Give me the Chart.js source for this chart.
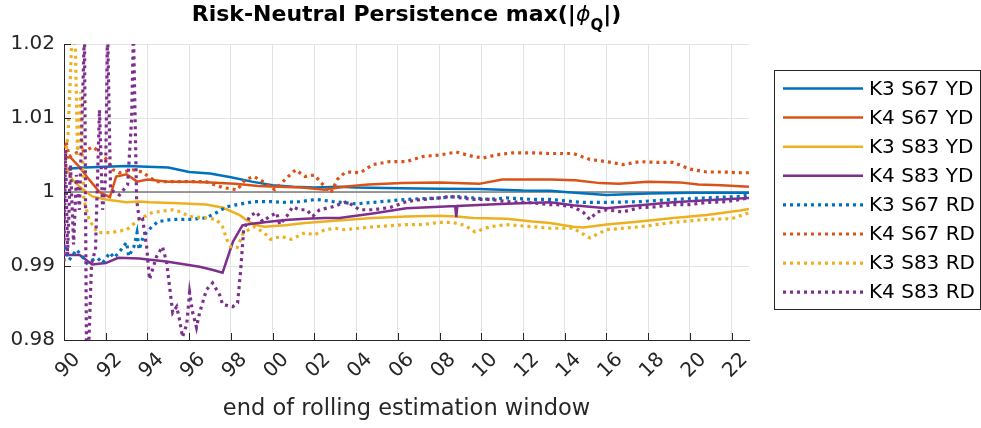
<!DOCTYPE html>
<html>
<head>
<meta charset="utf-8">
<script src="https://cdn.jsdelivr.net/npm/chart.js@4.4.1/dist/chart.umd.min.js"></script>
<style>
  html, body { margin: 0; padding: 0; background: #fff; }
  canvas { display: block; }
</style>
</head>
<body>
<canvas id="chart" width="981" height="428"></canvas>
<script>
// axis ticks
const xTickYears = [1990, 1992, 1994, 1996, 1998, 2000, 2002, 2004, 2006, 2008, 2010, 2012, 2014, 2016, 2018, 2020, 2022];
const xTickLabels = ['90', '92', '94', '96', '98', '00', '02', '04', '06', '08', '10', '12', '14', '16', '18', '20', '22'];
const yTickValues = [0.98, 0.99, 1, 1.01, 1.02];
const yTickLabels = ['0.98', '0.99', '1', '1.01', '1.02'];

// K3 S67 YD
const k3s67ydYears = [1990.0, 1991, 1992, 1993, 1994, 1995, 1996, 1997, 1998, 1999, 2000, 2001, 2002, 2003.2, 2004, 2006.1, 2008, 2009.9, 2012, 2013.3, 2014, 2015, 2016, 2017, 2018, 2020, 2022.83];
const k3s67ydValues = [1.0031, 1.0033, 1.0034, 1.0035, 1.0034, 1.0033, 1.0027, 1.0025, 1.0020, 1.0014, 1.0009, 1.0007, 1.0006, 1.0007, 1.0006, 1.0005, 1.00045, 1.0004, 1.0002, 1.00018, 1.0000, 0.9998, 0.9996, 0.9997, 0.9998, 0.9999, 0.9999];

// K4 S67 YD
const k4s67ydYears = [1990.0, 1990.3, 1990.7, 1991.2, 1991.7, 1992.2, 1992.35, 1992.5, 1993.0, 1993.5, 1994.0, 1995.0, 1996.0, 1997.0, 1998.2, 1999.3, 2000.3, 2001.4, 2002.5, 2003.4, 2004.6, 2006.2, 2008.0, 2009.9, 2011.0, 2013.3, 2014.5, 2015.7, 2016.6, 2018.0, 2019.5, 2020.4, 2021.5, 2022.83];
const k4s67ydValues = [1.0047, 1.0047, 1.0035, 1.0017, 1.0000, 0.9993, 1.0007, 1.0021, 1.0024, 1.0014, 1.0017, 1.0014, 1.0014, 1.0013, 1.0011, 1.0008, 1.0007, 1.0006, 1.0003, 1.0007, 1.0010, 1.0012, 1.0013, 1.0011, 1.0017, 1.0017, 1.0016, 1.0012, 1.0011, 1.0014, 1.0013, 1.0010, 1.0009, 1.0007];

// K3 S83 YD
const k3s83ydYears = [1990.0, 1990.4, 1990.75, 1991.35, 1992.0, 1993.0, 1993.6, 1994.1, 1995.2, 1996.8, 1997.6, 1998.4, 1998.7, 1999.1, 1999.6, 2000.6, 2001.55, 2002.5, 2003.45, 2004.8, 2006.4, 2008.0, 2008.8, 2009.6, 2011.2, 2012.45, 2013.3, 2014.4, 2014.9, 2016.0, 2017.6, 2019.2, 2020.8, 2022.4, 2022.83];
const k3s83ydValues = [1.0038, 1.0017, 1.0007, 0.9994, 0.9990, 0.9986, 0.9987, 0.9986, 0.9985, 0.9983, 0.9979, 0.9969, 0.9963, 0.9956, 0.9953, 0.9955, 0.9958, 0.9960, 0.9962, 0.9965, 0.9967, 0.9968, 0.9967, 0.9965, 0.9964, 0.9960, 0.9958, 0.9953, 0.9952, 0.9956, 0.9960, 0.9965, 0.9969, 0.9975, 0.9977];

// K4 S83 YD
const k4s83ydYears = [1990.0, 1990.75, 1991.35, 1992.0, 1992.6, 1993.6, 1994.9, 1996.5, 1997.1, 1997.6, 1998.1, 1998.55, 1999.0, 1999.6, 2000.6, 2001.55, 2002.5, 2003.2, 2004.8, 2006.4, 2008.0, 2008.75, 2008.8, 2008.85, 2009.6, 2011.2, 2013.3, 2014.4, 2016.0, 2017.6, 2019.2, 2020.8, 2022.83];
const k4s83ydValues = [0.9915, 0.9915, 0.9902, 0.9904, 0.9911, 0.9910, 0.9906, 0.9899, 0.9895, 0.9891, 0.9933, 0.9955, 0.9957, 0.9959, 0.9962, 0.9964, 0.9965, 0.9965, 0.9971, 0.9978, 0.9980, 0.9981, 0.9966, 0.9981, 0.9982, 0.9984, 0.9986, 0.9982, 0.9978, 0.9982, 0.9986, 0.9989, 0.9992];

// K3 S67 RD
const k3s67rdYears = [1990.05, 1990.25, 1990.6, 1990.9, 1991.1, 1991.35, 1991.6, 1991.85, 1992.2, 1992.4, 1992.65, 1993.0, 1993.1, 1993.35, 1993.5, 1993.6, 1993.8, 1994.1, 1994.5, 1995.2, 1996.0, 1996.8, 1997.3, 1997.8, 1998.3, 1999.1, 1999.9, 2000.5, 2001.3, 2002.1, 2002.9, 2004.0, 2004.8, 2006.4, 2008.0, 2008.8, 2009.6, 2010.4, 2011.2, 2012.45, 2013.3, 2014.4, 2014.9, 2016.0, 2017.6, 2019.2, 2020.8, 2022.4, 2022.83];
const k3s67rdValues = [0.9926, 0.9908, 0.9922, 0.9912, 0.9904, 0.9908, 0.9911, 0.9904, 0.9918, 0.9911, 0.9919, 0.9932, 0.9913, 0.9926, 0.9945, 0.9922, 0.9940, 0.9950, 0.9960, 0.9963, 0.9963, 0.9965, 0.9972, 0.9980, 0.9983, 0.9987, 0.9987, 0.9986, 0.9987, 0.9990, 0.9987, 0.9984, 0.9986, 0.9990, 0.9992, 0.9994, 0.9992, 0.9990, 0.9992, 0.9990, 0.9990, 0.9987, 0.9986, 0.9986, 0.9987, 0.9990, 0.9992, 0.9994, 0.9996];

// K4 S67 RD
const k4s67rdYears = [1990.0, 1990.1, 1990.25, 1990.6, 1991.1, 1991.4, 1991.7, 1992.05, 1992.35, 1992.65, 1993.3, 1993.75, 1994.4, 1995.2, 1996.0, 1996.8, 1997.6, 1998.3, 1998.7, 1999.1, 1999.6, 2000.1, 2000.6, 2001.1, 2001.55, 2002.0, 2002.5, 2002.8, 2003.1, 2003.45, 2003.7, 2004.2, 2004.8, 2005.6, 2006.4, 2007.2, 2008.0, 2008.8, 2009.6, 2010.1, 2010.7, 2011.5, 2012.45, 2013.3, 2014.4, 2015.2, 2016.0, 2016.8, 2017.6, 2018.4, 2019.2, 2020.0, 2020.8, 2021.6, 2022.4, 2022.83];
const k4s67rdValues = [1.0060, 1.0068, 1.0048, 1.0053, 1.0057, 1.0061, 1.0054, 1.0044, 1.0030, 1.0026, 1.0030, 1.0027, 1.0014, 1.0014, 1.0014, 1.0014, 1.0006, 1.0003, 1.0017, 1.0021, 1.0013, 1.0003, 1.0017, 1.0030, 1.0021, 1.0023, 1.0007, 0.9999, 1.0017, 1.0026, 1.0027, 1.0026, 1.0037, 1.0041, 1.0041, 1.0048, 1.0050, 1.0054, 1.0048, 1.0046, 1.0050, 1.0053, 1.0053, 1.0052, 1.0052, 1.0044, 1.0041, 1.0037, 1.0041, 1.0040, 1.0040, 1.0031, 1.0027, 1.0027, 1.0026, 1.0026];

// K3 S83 RD
const k3s83rdYears = [1990.0, 1990.2, 1990.4, 1990.55, 1990.65, 1990.8, 1990.95, 1991.2, 1991.6, 1992.2, 1993.0, 1993.6, 1994.2, 1995.2, 1995.6, 1996.0, 1996.8, 1997.3, 1997.6, 1997.8, 1998.0, 1998.3, 1998.6, 1999.1, 1999.6, 1999.9, 2000.4, 2000.9, 2001.55, 2002.0, 2002.5, 2003.0, 2003.45, 2004.8, 2006.4, 2007.2, 2008.0, 2008.6, 2009.2, 2009.7, 2010.4, 2011.2, 2012.45, 2013.3, 2014.4, 2015.2, 2016.0, 2017.6, 2019.2, 2020.8, 2022.0, 2022.83];
const k3s83rdValues = [1.0030, 1.0080, 1.0225, 1.0190, 1.0050, 1.0135, 0.9990, 0.9963, 0.9945, 0.9945, 0.9949, 0.9963, 0.9972, 0.9976, 0.9973, 0.9967, 0.9965, 0.9963, 0.9953, 0.9936, 0.9926, 0.9925, 0.9945, 0.9953, 0.9945, 0.9936, 0.9940, 0.9936, 0.9945, 0.9942, 0.9949, 0.9951, 0.9949, 0.9953, 0.9956, 0.9956, 0.9959, 0.9959, 0.9955, 0.9946, 0.9953, 0.9956, 0.9953, 0.9951, 0.9951, 0.9938, 0.9949, 0.9953, 0.9959, 0.9963, 0.9964, 0.9972];

// K4 S83 RD
const k4s83rdYears = [1990.00, 1990.07, 1990.17, 1990.31, 1990.46, 1990.60, 1990.74, 1990.89, 1990.98, 1991.08, 1991.18, 1991.32, 1991.51, 1991.70, 1991.85, 1991.99, 1992.09, 1992.23, 1992.66, 1993.05, 1993.24, 1993.33, 1993.48, 1993.62, 1993.77, 1993.96, 1994.10, 1994.24, 1994.44, 1994.72, 1994.92, 1995.06, 1995.21, 1995.40, 1995.54, 1995.68, 1995.88, 1996.02, 1996.16, 1996.35, 1996.50, 1996.83, 1997.12, 1997.46, 1997.60, 1998.08, 1998.32, 1998.47, 1998.61, 1998.90, 1999.23, 1999.52, 1999.86, 2000.19, 2000.34, 2000.67, 2000.96, 2001.29, 2001.63, 2001.92, 2002.25, 2002.88, 2003.55, 2004.17, 2004.79, 2005.61, 2006.43, 2007.19, 2008.01, 2008.49, 2009.59, 2010.41, 2011.22, 2012.18, 2013.28, 2013.62, 2014.39, 2014.87, 2015.20, 2015.54, 2016.02, 2016.78, 2017.60, 2018.41, 2019.18, 2019.99, 2020.81, 2021.77, 2022.40, 2022.83];
const k4s83rdValues = [0.9906, 1.0057, 0.9915, 1.0037, 0.9929, 1.0023, 0.9976, 1.0125, 1.0219, 0.9773, 0.9787, 0.9904, 0.9922, 1.0111, 0.9976, 1.0017, 1.0219, 1.0003, 0.9996, 1.0010, 1.0098, 1.0219, 0.9990, 0.9960, 0.9963, 0.9926, 0.9882, 0.9895, 0.9913, 0.9926, 0.9905, 0.9872, 0.9837, 0.9845, 0.9827, 0.9804, 0.9821, 0.9864, 0.9838, 0.9817, 0.9837, 0.9868, 0.9877, 0.9861, 0.9848, 0.9845, 0.9850, 0.9895, 0.9949, 0.9967, 0.9973, 0.9960, 0.9967, 0.9972, 0.9956, 0.9967, 0.9980, 0.9976, 0.9976, 0.9967, 0.9976, 0.9980, 0.9987, 0.9976, 0.9976, 0.9979, 0.9987, 0.9990, 0.9992, 0.9994, 0.9990, 0.9990, 0.9987, 0.9986, 0.9983, 0.9983, 0.9980, 0.9973, 0.9963, 0.9973, 0.9976, 0.9973, 0.9979, 0.9980, 0.9983, 0.9983, 0.9986, 0.9987, 0.9990, 0.9992];

const FONT = '"DejaVu Sans", sans-serif';
const TEXT = '#262626';
const DOTS = [3, 4];

function pts(xs, ys) {
  return xs.map((x, i) => ({ x: x, y: ys[i] }));
}

const series = [
  { label: 'K3 S67 YD', xs: k3s67ydYears, ys: k3s67ydValues, color: '#0072BD', dotted: false },
  { label: 'K4 S67 YD', xs: k4s67ydYears, ys: k4s67ydValues, color: '#D95319', dotted: false },
  { label: 'K3 S83 YD', xs: k3s83ydYears, ys: k3s83ydValues, color: '#EDB120', dotted: false },
  { label: 'K4 S83 YD', xs: k4s83ydYears, ys: k4s83ydValues, color: '#7E2F8E', dotted: false },
  { label: 'K3 S67 RD', xs: k3s67rdYears, ys: k3s67rdValues, color: '#0072BD', dotted: true },
  { label: 'K4 S67 RD', xs: k4s67rdYears, ys: k4s67rdValues, color: '#D95319', dotted: true },
  { label: 'K3 S83 RD', xs: k3s83rdYears, ys: k3s83rdValues, color: '#EDB120', dotted: true },
  { label: 'K4 S83 RD', xs: k4s83rdYears, ys: k4s83rdValues, color: '#7E2F8E', dotted: true }
];

const datasets = series.map((s, i) => ({
  label: s.label,
  data: pts(s.xs, s.ys),
  borderColor: s.color,
  borderWidth: s.dotted ? 3.2 : 2.5,
  borderDash: s.dotted ? DOTS : [],
  borderCapStyle: 'butt',
  pointRadius: 0,
  tension: 0,
  fill: false,
  order: 20 - i   // later series on top, like matlab
}));

// reference line at 1
datasets.push({
  label: '',
  data: [{ x: 1990, y: 1 }, { x: 2022.83, y: 1 }],
  borderColor: '#7a7a7a',
  borderWidth: 1.5,
  pointRadius: 0,
  order: 100
});

// inward ticks, title with subscript, boxed legend
const matlabBits = {
  id: 'matlabBits',
  afterDraw(chart) {
    const ctx = chart.ctx;
    const area = chart.chartArea;
    const xs = chart.scales.x;
    const ys = chart.scales.y;
    ctx.save();

    ctx.strokeStyle = TEXT;
    ctx.lineWidth = 1;
    ctx.beginPath();
    xTickYears.forEach(v => {
      const px = Math.round(xs.getPixelForValue(v)) + 0.5;
      ctx.moveTo(px, area.bottom);
      ctx.lineTo(px, area.bottom - 7);
    });
    yTickValues.forEach(v => {
      const py = Math.round(ys.getPixelForValue(v)) + 0.5;
      ctx.moveTo(area.left, py);
      ctx.lineTo(area.left + 7, py);
    });
    ctx.stroke();

    // title
    const parts = [
      { t: 'Risk-Neutral Persistence max(|', f: 'bold 22px ' + FONT, dy: 0 },
      { t: '\u03D5', f: 'italic 22px ' + FONT, dy: 0 },
      { t: 'Q', f: 'bold 15px ' + FONT, dy: 9 },
      { t: '|)', f: 'bold 22px ' + FONT, dy: 0 }
    ];
    let total = 0;
    parts.forEach(p => { ctx.font = p.f; p.w = ctx.measureText(p.t).width; total += p.w; });
    let tx = (area.left + area.right) / 2 - total / 2;
    ctx.fillStyle = '#000';
    ctx.textBaseline = 'alphabetic';
    ctx.textAlign = 'left';
    parts.forEach(p => {
      ctx.font = p.f;
      ctx.fillText(p.t, tx, 21 + p.dy);
      tx += p.w;
    });

    // legend
    const bx = 774.5, by = 70.5, bw = 206, bh = 239;
    ctx.fillStyle = '#fff';
    ctx.fillRect(bx, by, bw, bh);
    ctx.strokeStyle = TEXT;
    ctx.lineWidth = 1;
    ctx.strokeRect(bx, by, bw, bh);
    ctx.font = '20px ' + FONT;
    ctx.textBaseline = 'middle';
    series.forEach((s, i) => {
      const y = 88.5 + i * 29.1;
      ctx.strokeStyle = s.color;
      ctx.lineWidth = s.dotted ? 3.2 : 2.5;
      ctx.setLineDash(s.dotted ? DOTS : []);
      ctx.beginPath();
      ctx.moveTo(783, y);
      ctx.lineTo(863, y);
      ctx.stroke();
      ctx.setLineDash([]);
      ctx.fillStyle = '#000';
      ctx.fillText(s.label, 869, y + 1);
    });
    ctx.restore();
  }
};

new Chart(document.getElementById('chart'), {
  type: 'line',
  data: { datasets: datasets },
  plugins: [matlabBits],
  options: {
    responsive: false,
    animation: false,
    devicePixelRatio: 1,
    layout: { padding: { top: 44, right: 232, left: 0, bottom: 0 } },
    plugins: {
      legend: { display: false },
      title: { display: false },
      tooltip: { enabled: false }
    },
    scales: {
      x: {
        type: 'linear',
        min: 1990,
        max: 2022.83,
        afterBuildTicks: s => { s.ticks = xTickYears.map(v => ({ value: v })); },
        afterFit: s => { s.height = 88; },
        grid: { color: '#e3e3e3', drawTicks: false },
        border: { color: TEXT, width: 1 },
        ticks: {
          autoSkip: false,
          minRotation: 45,
          maxRotation: 45,
          padding: 8,
          labelOffset: 13,
          color: TEXT,
          font: { family: FONT, size: 20 },
          callback: (v, i) => xTickLabels[i]
        },
        title: {
          display: true,
          text: 'end of rolling estimation window',
          color: TEXT,
          font: { family: FONT, size: 22.5 },
          padding: { top: 0, bottom: 5 }
        }
      },
      y: {
        type: 'linear',
        min: 0.98,
        max: 1.02,
        afterBuildTicks: s => { s.ticks = yTickValues.map(v => ({ value: v })); },
        afterFit: s => { s.width = 64; },
        grid: { color: '#e3e3e3', drawTicks: false },
        border: { color: TEXT, width: 1 },
        ticks: {
          padding: 9,
          color: TEXT,
          font: { family: FONT, size: 20 },
          callback: (v, i) => yTickLabels[i]
        }
      }
    }
  }
});
</script>
</body>
</html>
